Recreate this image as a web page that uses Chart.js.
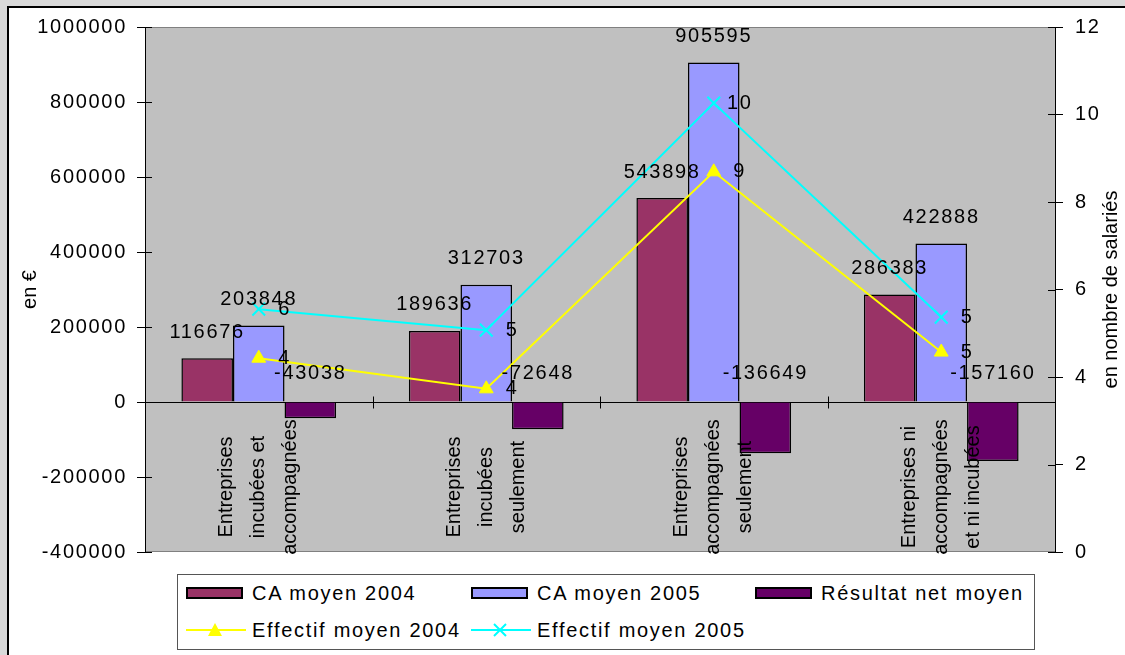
<!DOCTYPE html>
<html>
<head>
<meta charset="utf-8">
<script src="https://cdn.jsdelivr.net/npm/chart.js@4.4.1/dist/chart.umd.min.js"></script>
<style>
	body { margin: 0; background: #d9d9d9; width: 1125px; height: 655px; overflow: hidden; font-family: "Liberation Sans", Arial, sans-serif; }
	#frame { position: absolute; left: 7px; top: 6px; width: 1125px; height: 660px; background: #fff; border-left: 2px solid #000; border-top: 2px solid #000; }
	#wrap { position: absolute; left: 0; top: 0; width: 1125px; height: 655px; }
	#legend { position: absolute; left: 177px; top: 574px; width: 856px; height: 74px; border: 1px solid #555; background: #fff; font-size: 20px; letter-spacing: 1.7px; color: #000; }
	.sw { position: absolute; }
	.txt { position: absolute; line-height: 24px; white-space: nowrap; }
</style>
</head>
<body>
<div id="frame"></div>
<div id="wrap"><canvas id="myChart" width="1125" height="655"></canvas></div>
<div id="legend"></div>
<script>
// data
var categories = [
	[ "Entreprises", "incubées et", "accompagnées" ],
	[ "Entreprises", "incubées", "seulement" ],
	[ "Entreprises", "accompagnées", "seulement" ],
	[ "Entreprises ni", "accompagnées", "et ni incubées" ]
];
var caMoyen2004 = [ 116676, 189636, 543898, 286383 ];
var caMoyen2005 = [ 203848, 312703, 905595, 422888 ];
var resultatNet = [ -43038, -72648, -136649, -157160 ];
var effectif2004 = [ 4.43, 3.73, 8.69, 4.57 ];
var effectif2005 = [ 5.55, 5.07, 10.26, 5.37 ];
var euroAxis = [ -400000, 1000000, 200000 ];   // min, max, step
var salariesAxis = [ 0, 12, 2 ];
var leftTitle = "en €";
var rightTitle = "en nombre de salariés";

var FONT = '"Liberation Sans", Arial, sans-serif';

// horizontal text in the picture is a bit stretched, letter spacing mimics it
var spacingPlugin = {
	id : 'spacing',
	beforeDraw : function(chart) {
		chart.ctx.letterSpacing = '1.7px';
	}
};

var plotPlugin = {
	id : 'plot',
	beforeDraw : function(chart) {
		var a = chart.chartArea, ctx = chart.ctx;
		ctx.save();
		ctx.fillStyle = '#c0c0c0';
		ctx.fillRect(a.left, a.top, a.right - a.left, a.bottom - a.top);
		ctx.strokeStyle = '#808080';
		ctx.lineWidth = 1;
		ctx.beginPath();
		ctx.moveTo(a.left, a.top + 0.5); ctx.lineTo(a.right, a.top + 0.5);
		ctx.moveTo(a.left, a.bottom - 0.5); ctx.lineTo(a.right, a.bottom - 0.5);
		ctx.stroke();
		ctx.restore();
	},
	beforeDatasetsDraw : function(chart) {
		var a = chart.chartArea, ctx = chart.ctx, xs = chart.scales.x;
		var y0 = Math.round(chart.scales.y.getPixelForValue(0)) + 0.5;
		ctx.save();
		ctx.strokeStyle = '#000';
		ctx.lineWidth = 1;
		ctx.beginPath();
		ctx.moveTo(a.left, y0); ctx.lineTo(a.right, y0);
		for (var i = 1; i < categories.length; i++) {
			var xb = Math.round((xs.getPixelForValue(i - 1) + xs.getPixelForValue(i)) / 2) + 0.5;
			ctx.moveTo(xb, y0 - 6); ctx.lineTo(xb, y0 + 6);
		}
		ctx.stroke();
		ctx.restore();
	},
	afterDatasetsDraw : function(chart) {
		var ctx = chart.ctx, xs = chart.scales.x;
		var y0 = chart.scales.y.getPixelForValue(0);
		ctx.save();
		ctx.fillStyle = '#000';
		ctx.font = '20px ' + FONT;
		// category names, rotated, inside the plot under the zero line
		ctx.letterSpacing = '0px';
		var cy = (y0 + chart.chartArea.bottom) / 2 + 10;
		chart.data.labels.forEach(function(lines, i) {
			var x = xs.getPixelForValue(i);
			lines.forEach(function(t, j) {
				ctx.save();
				ctx.translate(x + (j - (lines.length - 1) / 2) * 32, cy);
				ctx.rotate(-Math.PI / 2);
				ctx.textAlign = 'center';
				ctx.textBaseline = 'middle';
				ctx.fillText(t, 0, 0);
				ctx.restore();
			});
		});
		// value labels
		ctx.letterSpacing = '1.7px';
		ctx.textAlign = 'center';
		ctx.textBaseline = 'middle';
		chart.data.datasets.forEach(function(ds, di) {
			var meta = chart.getDatasetMeta(di);
			meta.data.forEach(function(el, i) {
				var v = ds.data[i];
				if (ds.type === 'line') {
					ctx.fillText(String(Math.round(v)), el.x + 26, el.y);
				} else {
					ctx.fillText(String(v), el.x, v >= 0 ? el.y - 26 : y0 - 29);
				}
			});
		});
		ctx.restore();
	},
	afterDraw : function(chart) {
		var a = chart.chartArea, ctx = chart.ctx;
		ctx.save();
		// tick marks cross the axis lines
		ctx.strokeStyle = '#000';
		ctx.lineWidth = 1;
		ctx.beginPath();
		chart.scales.y.ticks.forEach(function(t) {
			var p = Math.round(chart.scales.y.getPixelForValue(t.value)) + 0.5;
			ctx.moveTo(a.left, p); ctx.lineTo(a.left + 7, p);
		});
		chart.scales.y1.ticks.forEach(function(t) {
			var p = Math.round(chart.scales.y1.getPixelForValue(t.value)) + 0.5;
			ctx.moveTo(a.right - 7, p); ctx.lineTo(a.right, p);
		});
		ctx.stroke();
		// axis titles
		ctx.letterSpacing = '0px';
		ctx.fillStyle = '#000';
		ctx.font = '20px ' + FONT;
		ctx.textAlign = 'center';
		ctx.textBaseline = 'middle';
		var cy = (a.top + a.bottom) / 2;
		ctx.save();
		ctx.translate(30, cy);
		ctx.rotate(-Math.PI / 2);
		ctx.fillText(leftTitle, 0, 0);
		ctx.restore();
		ctx.save();
		ctx.translate(1111, cy);
		ctx.rotate(-Math.PI / 2);
		ctx.fillText(rightTitle, 0, 0);
		ctx.restore();
		ctx.restore();
	}
};

var tickFont = { family : FONT, size : 20 };

var ctxC = document.getElementById("myChart").getContext('2d');
var myChart = new Chart(ctxC, {
	type : 'bar',
	data : {
		labels : categories,
		datasets : [ {
			label : "CA moyen 2004",
			data : caMoyen2004,
			backgroundColor : '#993366',
			borderColor : '#000',
			borderWidth : 1.5,
			yAxisID : 'y',
			order : 1
		}, {
			label : "CA moyen 2005",
			data : caMoyen2005,
			backgroundColor : '#9999ff',
			borderColor : '#000',
			borderWidth : 1.5,
			yAxisID : 'y',
			order : 1
		}, {
			label : "Résultat net moyen",
			data : resultatNet,
			backgroundColor : '#660066',
			borderColor : '#000',
			borderWidth : 1.5,
			yAxisID : 'y',
			order : 1
		}, {
			type : 'line',
			label : "Effectif moyen 2004",
			data : effectif2004,
			borderColor : '#ffff00',
			backgroundColor : '#ffff00',
			borderWidth : 2,
			pointStyle : 'triangle',
			pointRadius : 8,
			pointBorderWidth : 1,
			yAxisID : 'y1',
			order : 0
		}, {
			type : 'line',
			label : "Effectif moyen 2005",
			data : effectif2005,
			borderColor : '#00ffff',
			backgroundColor : '#00ffff',
			borderWidth : 2,
			pointStyle : 'crossRot',
			pointRadius : 9,
			pointBorderWidth : 2,
			yAxisID : 'y1',
			order : 0
		} ]
	},
	options : {
		responsive : false,
		animation : false,
		categoryPercentage : 0.68,
		barPercentage : 1,
		layout : { padding : { left : 0, right : 0, top : 27, bottom : 103 } },
		plugins : {
			legend : { display : false },
			tooltip : { enabled : false }
		},
		scales : {
			x : { display : false },
			y : {
				position : 'left',
				min : euroAxis[0],
				max : euroAxis[1],
				ticks : { stepSize : euroAxis[2], color : '#000', font : tickFont, padding : 10,
					callback : function(v) { return String(v); } },
				grid : { drawOnChartArea : false, color : '#000', tickLength : 8 },
				border : { color : '#000', width : 1 },
				afterFit : function(s) { s.width = 145; }
			},
			y1 : {
				position : 'right',
				min : salariesAxis[0],
				max : salariesAxis[1],
				ticks : { stepSize : salariesAxis[2], color : '#000', font : tickFont, padding : 12,
					callback : function(v) { return String(v); } },
				grid : { drawOnChartArea : false, color : '#000', tickLength : 8 },
				border : { color : '#000', width : 1 },
				afterFit : function(s) { s.width = 70; }
			}
		}
	},
	plugins : [ spacingPlugin, plotPlugin ]
});

// legend, built from the chart's datasets
var legendCols = [ 8, 293, 577 ];
var legendRows = [ 18, 55 ];
var legendSlots = [ [ 0, 0 ], [ 1, 0 ], [ 2, 0 ], [ 0, 1 ], [ 1, 1 ] ];
var legendEl = document.getElementById("legend");
myChart.data.datasets.forEach(function(ds, i) {
	var col = legendCols[legendSlots[i][0]], row = legendRows[legendSlots[i][1]];
	var sw;
	if (ds.type === 'line') {
		sw = document.createElementNS("http://www.w3.org/2000/svg", "svg");
		sw.setAttribute("width", 60);
		sw.setAttribute("height", 20);
		var marker = ds.pointStyle === 'triangle'
			? '<polygon points="29,3 36,16 22,16" fill="' + ds.borderColor + '"/>'
			: '<path d="M23,4 L35,16 M35,4 L23,16" stroke="' + ds.borderColor + '" stroke-width="2"/>';
		sw.innerHTML = '<line x1="0" y1="10" x2="60" y2="10" stroke="' + ds.borderColor + '" stroke-width="2"/>' + marker;
		sw.setAttribute("class", "sw");
		sw.style.left = col + "px";
		sw.style.top = (row - 10) + "px";
	} else {
		sw = document.createElement("div");
		sw.className = "sw";
		sw.style.cssText = "left:" + col + "px;top:" + (row - 6) + "px;width:57px;height:12px;box-sizing:border-box;border:2px solid #000;background:" + ds.backgroundColor;
	}
	legendEl.appendChild(sw);
	var t = document.createElement("div");
	t.className = "txt";
	t.textContent = ds.label;
	t.style.left = (col + 66) + "px";
	t.style.top = (row - 12) + "px";
	legendEl.appendChild(t);
});
</script>
</body>
</html>
